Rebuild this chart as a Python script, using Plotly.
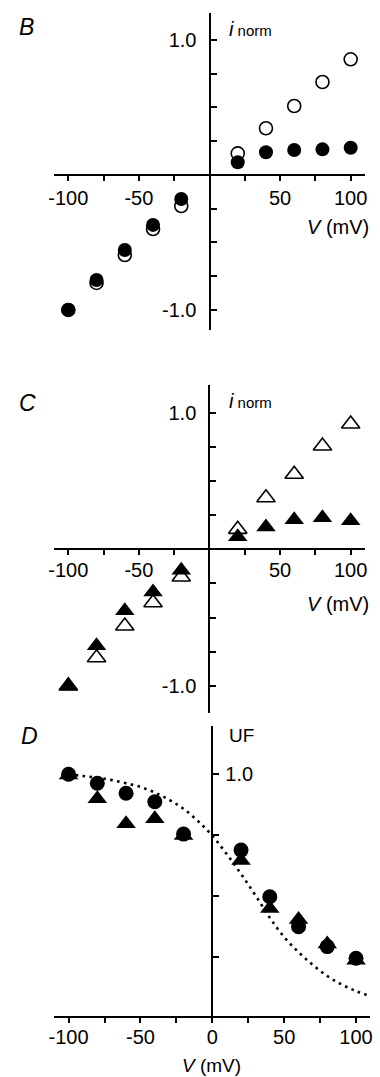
import plotly.graph_objects as go

# ---------------- data ----------------
V = [-100, -80, -60, -40, -20, 20, 40, 60, 80, 100]

B_open = [-1.0, -0.80, -0.593, -0.40, -0.23, 0.16, 0.346, 0.511, 0.689, 0.857]
B_filled = [-1.0, -0.778, -0.556, -0.37, -0.178, 0.094, 0.168, 0.185, 0.19, 0.202]

C_open = [-1.0, -0.794, -0.562, -0.391, -0.203, 0.146, 0.377, 0.549, 0.756, 0.917]
C_filled = [-1.0, -0.706, -0.45, -0.313, -0.154, 0.092, 0.163, 0.216, 0.231, 0.209]

D_circle = [1.0, 0.963, 0.922, 0.887, 0.754, 0.688, 0.496, 0.373, 0.291, 0.243]
D_triangle = [0.997, 0.899, 0.796, 0.817, 0.748, 0.645, 0.448, 0.402, 0.302, 0.235]

fit_V = [-100, -90, -80, -70, -60, -50, -40, -30, -20, -10, 0, 10, 20, 30, 40, 50, 60, 70, 80, 90, 100, 110]
fit_UF = [1.0, 0.993, 0.986, 0.976, 0.963, 0.948, 0.925, 0.895, 0.858, 0.808, 0.747, 0.672,
          0.59, 0.502, 0.41, 0.33, 0.268, 0.215, 0.17, 0.135, 0.108, 0.087]

x_tickvals_BC = [-100, -75, -50, -25, 25, 50, 75, 100]
x_ticktext_BC = ["-100", "", "-50", "", "", "50", "", "100"]
y_tickvals_BC = [-1.0, -0.75, -0.5, -0.25, 0.25, 0.5, 0.75, 1.0]
y_ticktext_BC = ["-1.0", "", "", "", "", "", "", "1.0"]
x_tickvals_D = [-100, -75, -50, -25, 0, 25, 50, 75, 100]
x_ticktext_D = ["-100", "", "-50", "", "0", "", "50", "", "100"]
y_tickvals_D = [0.25, 0.5, 0.75, 1.0]
y_ticktext_D = ["", "", "", "1.0"]

# ---------------- layout helpers ----------------
W, H = 380, 1077
FONT = "Liberation Sans, Arial, Helvetica, sans-serif"


def px_x(p):
    return p / W


def px_y(p):
    return 1 - p / H


fig = go.Figure()

black = "black"
msize_c = 14
msize_t = 17

# Panel B
fig.add_trace(go.Scatter(x=V, y=B_open, mode="markers", xaxis="x", yaxis="y",
                         marker=dict(symbol="circle-open", size=13, color=black, line=dict(width=1.6, color=black))))
fig.add_trace(go.Scatter(x=V, y=B_filled, mode="markers", xaxis="x", yaxis="y",
                         marker=dict(symbol="circle", size=msize_c, color=black)))
# Panel C
fig.add_trace(go.Scatter(x=V, y=C_open, mode="markers", xaxis="x2", yaxis="y2",
                         marker=dict(symbol="triangle-up-open", size=16, color=black, line=dict(width=1.6, color=black))))
fig.add_trace(go.Scatter(x=V, y=C_filled, mode="markers", xaxis="x2", yaxis="y2",
                         marker=dict(symbol="triangle-up", size=msize_t, color=black)))
# Panel D
fig.add_trace(go.Scatter(x=fit_V, y=fit_UF, mode="lines", xaxis="x3", yaxis="y3",
                         line=dict(color=black, width=2.6, dash="2.6px,4.4px", shape="spline")))
fig.add_trace(go.Scatter(x=V, y=D_triangle, mode="markers", xaxis="x3", yaxis="y3",
                         marker=dict(symbol="triangle-up", size=msize_t, color=black)))
fig.add_trace(go.Scatter(x=V, y=D_circle, mode="markers", xaxis="x3", yaxis="y3",
                         marker=dict(symbol="circle", size=15, color=black)))

tickfont = dict(family=FONT, size=20, color=black)

# pixel geometry
# B
B_dom_x = [px_x(54.2), px_x(364.8)]
B_dom_y = [px_y(330.2), px_y(13)]
B_x0 = px_x(209.5)
B_y0 = px_y(175)
# C
C_dom_x = B_dom_x
C_dom_y = [px_y(713.2), px_y(385.4)]
C_x0 = px_x(209.3)
C_y0 = px_y(549.3)
# D
D_dom_x = [px_x(54.2), px_x(370.4)]
D_dom_y = [px_y(1017.3), px_y(725.7)]
D_x0 = px_x(212.3)


def xaxis_free(domain, pos, tv, tt, rng, standoff):
    return dict(domain=domain, range=rng, anchor="free", position=pos,
                showline=True, linecolor=black, linewidth=2,
                tickvals=tv, ticktext=tt, ticks="outside", ticklen=5, tickwidth=1.5,
                tickcolor=black, tickfont=tickfont, showgrid=False, zeroline=False,
                ticklabelstandoff=standoff, fixedrange=True, automargin=False)


def yaxis_free(domain, pos, tv, tt, rng, side):
    return dict(domain=domain, range=rng, anchor="free", position=pos, side=side,
                showline=True, linecolor=black, linewidth=2,
                tickvals=tv, ticktext=tt,
                ticks="inside" if side == "left" else "outside",
                ticklen=6, tickwidth=1.5, tickcolor=black, tickfont=tickfont,
                showgrid=False, zeroline=False, fixedrange=True, automargin=False,
                ticklabelstandoff=8 if side == "left" else 2)


fig.update_layout(
    width=W, height=H,
    margin=dict(l=0, r=0, t=0, b=0, autoexpand=False),
    paper_bgcolor="white", plot_bgcolor="rgba(0,0,0,0)",
    showlegend=False, hovermode=False,
    xaxis=xaxis_free(B_dom_x, B_y0, x_tickvals_BC, x_ticktext_BC, [-110, 110], 0),
    yaxis=yaxis_free(B_dom_y, B_x0, y_tickvals_BC, y_ticktext_BC, [-1.15, 1.2], "left"),
    xaxis2=xaxis_free(C_dom_x, C_y0, x_tickvals_BC, x_ticktext_BC, [-110, 110], -2),
    yaxis2=yaxis_free(C_dom_y, C_x0, y_tickvals_BC, y_ticktext_BC, [-1.2, 1.2], "left"),
    xaxis3=xaxis_free(D_dom_x, D_dom_y[0], x_tickvals_D, x_ticktext_D, [-110, 110], -3),
    yaxis3=yaxis_free(D_dom_y, D_x0, y_tickvals_D, y_ticktext_D, [0, 1.2], "right"),
)

ann = []


def add_text(text, x, y, xanchor="left", yanchor="middle", size=20):
    ann.append(dict(text=text, x=px_x(x), y=px_y(y), xref="paper", yref="paper",
                    xanchor=xanchor, yanchor=yanchor, showarrow=False,
                    font=dict(family=FONT, size=size, color=black)))


add_text("<i>B</i>", 17, 27, size=23)
add_text("<i>C</i>", 17, 403, size=23)
add_text("<i>D</i>", 19, 736, size=23)
inorm = "<i>i</i><span style='font-size:15px'> norm</span>"
add_text(inorm, 227, 29)
add_text(inorm, 227, 401)
add_text("UF", 227, 735, size=19)
add_text("<i>V</i> (mV)", 371, 227, xanchor="right")
add_text("<i>V</i> (mV)", 371, 604, xanchor="right")
add_text("<i>V</i> (mV)", 211.5, 1065, xanchor="center", size=19)
fig.update_layout(annotations=ann)

fig.write_html("out.html", config={"displayModeBar": False},
               post_script="document.body.style.margin='0';document.body.style.overflow='hidden';")
